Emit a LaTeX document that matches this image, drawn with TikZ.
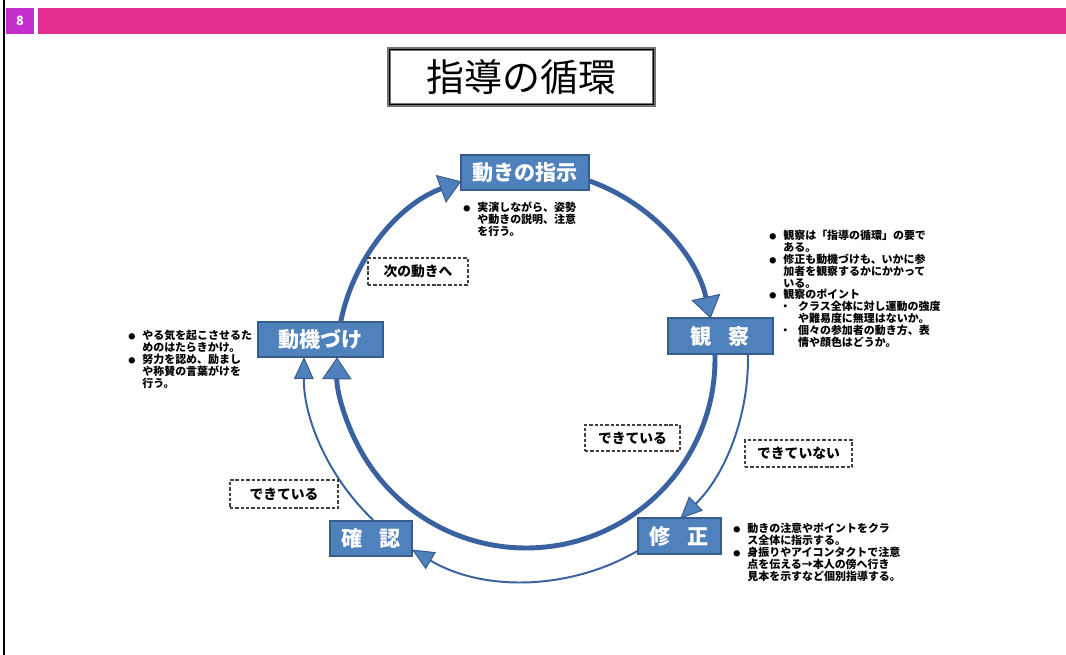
\documentclass[tikz,border=0pt]{standalone}
\usepackage{fontspec}
\setmainfont{Noto Sans CJK JP}
\usetikzlibrary{positioning}
\usetikzlibrary{arrows.meta}

\definecolor{cajaazul}{RGB}{79,129,189}
\definecolor{bordeazul}{RGB}{56,93,138}
\definecolor{anilloazul}{RGB}{58,98,160}
\definecolor{rosa}{RGB}{228,45,142}
\definecolor{morado}{RGB}{196,46,204}

% vinetas de las notas
\newcommand{\bulpt}{\makebox[10pt][l]{\fontsize{5pt}{5pt}\selectfont ●}}
\newcommand{\bulin}{\hspace*{10pt}}
\newcommand{\subpt}{\makebox[10.5pt][l]{\hspace*{-2.5pt}・}}
\newcommand{\subin}{\hspace*{10.5pt}}

\begin{document}
\begin{tikzpicture}[x=0.025cm, y=-0.025cm,
    caja/.style={draw=bordeazul, line width=1pt, fill=cajaazul, text=white,
      inner sep=0pt, font=\fontsize{15pt}{18pt}\selectfont\bfseries},
    etiqueta/.style={draw=black!75, dash pattern=on 2.4pt off 1.4pt, line width=0.8pt,
      fill=white, inner sep=0pt, font=\fontsize{9.8pt}{11pt}\selectfont\bfseries},
    nota/.style={anchor=north west, align=left, inner sep=0pt,
      font=\fontsize{7.8pt}{8.5pt}\selectfont\bfseries},
    grueso/.style={draw=anilloazul, line width=3.5pt,
      -{Triangle[length=15.6pt, width=21pt, line width=0.7pt, color=bordeazul, fill=cajaazul]}},
    fino/.style={draw=anilloazul, line width=1.4pt,
      -{Triangle[length=15.6pt, width=14pt, line width=0.7pt, color=bordeazul, fill=cajaazul]}}]
  \useasboundingbox (0,0) rectangle (1066,655);
  \fill[white] (0,0) rectangle (1066,655);

  % Cabecera
  \draw[line width=1pt] (4,0) -- (4,655);
  \fill[morado] (6,8) rectangle (34,34);
  \fill[rosa] (38,8) rectangle (1066,34);
  \node[text=white, font=\fontsize{9pt}{10pt}\selectfont\bfseries] (pagina) at (20,21) {8};

  % Titulo
  \node[draw=black!55, line width=2.2pt, minimum width=188.5pt, minimum height=39.8pt,
    inner sep=0pt, font=\fontsize{27pt}{30pt}\selectfont] (titulo) at (521.5,77) {指導の循環};
  \draw[line width=0.5pt] ([shift={(1.4pt,-1.4pt)}]titulo.north west) rectangle ([shift={(-1.4pt,1.4pt)}]titulo.south east);

  % Cajas del ciclo
  \node[caja, minimum width=91pt, minimum height=24.9pt] (shiji) at (525,172.5) {動きの指示};
  \node[caja, minimum width=74.7pt, minimum height=25.6pt] (kansatsu) at (720.5,336) {観\hspace{0.8em}察};
  \node[caja, minimum width=59pt, minimum height=25.6pt] (shusei) at (679.5,536) {修\hspace{0.8em}正};
  \node[caja, minimum width=58.3pt, minimum height=24.9pt] (kakunin) at (371,538.5) {確\hspace{0.8em}認};
  \node[caja, minimum width=88.9pt, minimum height=24.9pt] (dokizuke) at (320.5,339.5) {動機づけ};

  % Anillo: puntos de salida sobre las cajas
  \coordinate (centro) at (526,359);
  \coordinate (s1) at ([shift={(191:189)}]centro);
  \coordinate (s2) at ([shift={(289.5:189)}]centro);
  \coordinate (s3) at ([shift={(-1.5:189)}]centro);
  \coordinate (s4) at ([shift={(-1.5:222)}]centro);
  \coordinate (s5) at ([shift={(59.6:222)}]centro);
  \coordinate (s6) at ([shift={(133.5:222)}]centro);

  % Flechas gruesas
  \draw[grueso] (s1) arc[start angle=191, end angle=250, radius=189];
  \draw[grueso] (s2) arc[start angle=289.5, end angle=347.6, radius=189];
  \draw[grueso] (s3) arc[start angle=-1.5, end angle=180.5, radius=189];

  % Flechas finas
  \draw[fino] (s4) arc[start angle=-1.5, end angle=46, radius=222];
  \draw[fino] (s5) arc[start angle=59.6, end angle=120.9, radius=222];
  \draw[fino] (s6) arc[start angle=133.5, end angle=180.5, radius=222];

  % Etiquetas punteadas
  \node[etiqueta, minimum width=71.1pt, minimum height=19.2pt] (tsugi) at (418,271.5) {次の動きへ};
  \node[etiqueta, minimum width=67.6pt, minimum height=18.5pt] (dekiru) at (632.5,438) {できている};
  \node[etiqueta, minimum width=76.1pt, minimum height=19.2pt] (dekinai) at (798.5,453.5) {できていない};
  \node[etiqueta, minimum width=76.8pt, minimum height=19.9pt] (dekiru2) at (284,494) {できている};

  % Notas
  \node[nota] (n_shiji) at (463,201.5) {\bulpt 実演しながら、姿勢\\
    \bulin や動きの説明、注意\\
    \bulin を行う。};
  \node[nota] (n_kansatsu) at (769,229.5) {\bulpt 観察は「指導の循環」の要で\\
    \bulin ある。\\
    \bulpt 修正も動機づけも、いかに参\\
    \bulin 加者を観察するかにかかって\\
    \bulin いる。\\
    \bulpt 観察のポイント\\
    \bulin\subpt クラス全体に対し運動の強度\\
    \bulin\subin や難易度に無理はないか。\\
    \bulin\subpt 個々の参加者の動き方、表\\
    \bulin\subin 情や顔色はどうか。};
  \node[nota] (n_doki) at (128,329.5) {\bulpt やる気を起こさせるた\\
    \bulin めのはたらきかけ。\\
    \bulpt 努力を認め、励まし\\
    \bulin や称賛の言葉がけを\\
    \bulin 行う。};
  \node[nota] (n_shusei) at (733,522.5) {\bulpt 動きの注意やポイントをクラ\\
    \bulin ス全体に指示する。\\
    \bulpt 身振りやアイコンタクトで注意\\
    \bulin 点を伝える→本人の傍へ行き\\
    \bulin 見本を示すなど個別指導する。};
\end{tikzpicture}
\end{document}
